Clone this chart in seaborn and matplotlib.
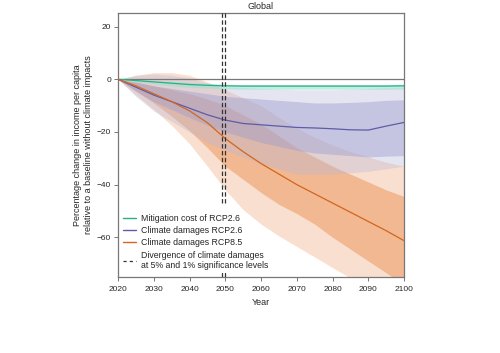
import numpy as np
import pandas as pd
import matplotlib
matplotlib.use("Agg")
import matplotlib.pyplot as plt
import seaborn as sns
from matplotlib.lines import Line2D

years = [2020, 2025, 2030, 2035, 2040, 2045, 2050, 2055, 2060, 2065, 2070, 2075, 2080, 2085, 2090, 2095, 2100]

# Mitigation cost RCP2.6
mit_med = [0, -0.5, -1.0, -1.5, -2.0, -2.3, -2.5, -2.6, -2.6, -2.6, -2.6, -2.6, -2.6, -2.6, -2.6, -2.6, -2.5]
mit_lo = [0, -1.0, -1.8, -2.5, -3.0, -3.4, -3.6, -3.7, -3.8, -3.8, -3.8, -3.8, -3.8, -3.8, -3.8, -3.8, -3.7]
mit_hi = [0, -0.2, -0.5, -0.8, -1.2, -1.6, -1.9, -2.0, -2.0, -2.0, -2.0, -2.0, -2.0, -2.0, -2.0, -2.0, -1.9]

# Climate damages RCP2.6
r26_med = [0, -3.0, -6.0, -8.5, -11.0, -13.5, -15.5, -16.8, -17.3, -17.8, -18.3, -18.5, -18.8, -19.2, -19.3, -17.8, -16.4]
r26_in_hi = [0, -1.2, -2.5, -3.5, -4.5, -5.5, -6.5, -7.0, -7.5, -8.0, -8.5, -9.0, -9.0, -8.8, -8.5, -8.0, -7.8]
r26_in_lo = [0, -4.5, -8.5, -11.5, -14.5, -17.5, -20.0, -22.0, -24.0, -25.5, -27.0, -28.0, -28.5, -29.0, -29.5, -29.2, -29.0]
r26_out_hi = [0, 1.5, 2.0, 1.5, 0.5, -1.5, -3.0, -3.2, -3.5, -3.8, -4.0, -4.0, -4.0, -3.8, -3.5, -3.2, -3.0]
r26_out_lo = [0, -6.5, -12.0, -16.0, -20.0, -24.0, -27.0, -29.5, -32.0, -34.0, -36.0, -36.0, -36.0, -35.5, -35.0, -34.0, -33.0]

# Climate damages RCP8.5
r85_med = [0, -2.5, -5.5, -8.5, -12.0, -16.5, -22.5, -27.5, -32.0, -36.0, -40.0, -43.5, -47.0, -50.5, -54.0, -57.5, -61.3]
r85_in_hi = [0, -1.0, -2.5, -4.0, -5.5, -7.5, -10.0, -13.5, -17.0, -21.5, -26.0, -29.5, -33.0, -36.0, -39.0, -42.0, -44.5]
r85_in_lo = [0, -4.5, -9.0, -14.0, -19.5, -26.0, -33.0, -38.0, -43.0, -47.5, -51.0, -55.0, -60.0, -64.5, -69.0, -73.5, -78.0]
r85_out_hi = [0, 1.5, 2.5, 2.5, 1.5, -1.0, -4.0, -7.0, -10.0, -14.5, -18.5, -22.0, -25.0, -27.5, -29.5, -31.5, -33.0]
r85_out_lo = [0, -6.0, -11.5, -17.5, -24.5, -33.0, -42.0, -49.5, -55.0, -59.5, -63.5, -67.5, -71.5, -75.5, -79.0, -83.0, -86.0]

div_years = [2049, 2050]

labels = ["Mitigation cost of RCP2.6", "Climate damages RCP2.6", "Climate damages RCP8.5",
          "Divergence of climate damages\nat 5% and 1% significance levels"]

c_green = "#22b287"
c_blue = "#5c5ca8"
c_orange = "#d2661e"

sns.set_style("ticks")
plt.rcParams['font.family'] = ['Liberation Sans', 'DejaVu Sans']

fig = plt.figure(figsize=(5.0, 3.53), dpi=100)
ax = fig.add_axes([0.236, 0.216, 0.572, 0.746])

yrs = np.array(years)
# Bands
ax.fill_between(yrs, r85_out_lo, r85_out_hi, color="#f0a678", alpha=0.35, lw=0, zorder=1)
ax.fill_between(yrs, r85_in_lo, r85_in_hi, color="#ec9860", alpha=0.55, lw=0, zorder=1.1)
ax.fill_between(yrs, r26_out_lo, r26_out_hi, color="#b7b7dc", alpha=0.35, lw=0, zorder=1.2)
ax.fill_between(yrs, r26_in_lo, r26_in_hi, color="#9e9ed0", alpha=0.45, lw=0, zorder=1.3)
ax.fill_between(yrs, mit_lo, mit_hi, color="#9fe0cc", alpha=0.6, lw=0, zorder=1.4)

df = pd.DataFrame({
    "Year": years * 3,
    "value": mit_med + r26_med + r85_med,
    "series": [labels[0]] * len(years) + [labels[1]] * len(years) + [labels[2]] * len(years),
})
sns.lineplot(data=df, x="Year", y="value", hue="series",
             palette=[c_green, c_blue, c_orange], linewidth=0.9, ax=ax,
             legend=False, zorder=3)

ax.axhline(0, color="#777777", lw=0.9, zorder=2)
for dy in div_years:
    # interrupted behind the legend block
    ax.axvline(dy, ymin=0.28, ymax=1.0, color="#333333", lw=0.9, ls=(0, (3.5, 2)), zorder=4)
    ax.axvline(dy, ymin=0.0, ymax=0.015, color="#333333", lw=0.9, zorder=4)

ax.set_xlim(2020, 2100)
ax.set_ylim(-75, 25)
ax.set_xticks(range(2020, 2101, 10))
ax.set_yticks([20, 0, -20, -40, -60])
ax.tick_params(axis="both", labelsize=6, length=3, width=0.7, color="#777777")
ax.tick_params(axis="x", pad=4)
ax.tick_params(axis="y", pad=2)
for s in ax.spines.values():
    s.set_color("#777777")
    s.set_linewidth(0.9)
ax.set_xlabel("Year", fontsize=6.5, labelpad=3)
ax.set_ylabel("Percentage change in income per capita\nrelative to a baseline without climate impacts",
              fontsize=6.5, labelpad=3)
ax.set_title("Global", fontsize=6.5, pad=3)

handles = [Line2D([], [], color=c_green, lw=1.0),
           Line2D([], [], color=c_blue, lw=1.0),
           Line2D([], [], color=c_orange, lw=1.0),
           Line2D([], [], color="#333333", lw=0.9, ls=(0, (2.5, 2.5)))]
leg = ax.legend(handles, labels, loc="lower left", bbox_to_anchor=(0.0, 0.005), frameon=False,
                fontsize=6.3, handlelength=1.4, handletextpad=0.6, labelspacing=0.38,
                borderaxespad=0.3, borderpad=0.3)
leg.set_zorder(5)

fig.savefig("out.png", dpi=100)
